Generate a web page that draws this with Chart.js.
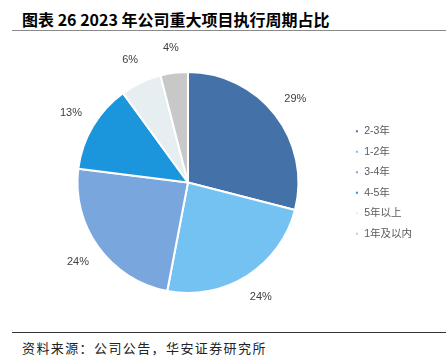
<!DOCTYPE html>
<html><head><meta charset="utf-8">
<script src="https://cdn.jsdelivr.net/npm/chart.js@4/dist/chart.umd.min.js"></script>
<style>
html,body{margin:0;padding:0;background:#fff;width:446px;height:359px;overflow:hidden;}
#title{position:absolute;left:22px;top:7px;font-family:"Noto Sans CJK SC","Liberation Sans",sans-serif;font-weight:bold;font-size:16px;color:#000;white-space:nowrap;}
#topline{position:absolute;left:12px;top:30px;width:434px;height:1px;background:#8a8a8a;}
#botline{position:absolute;left:12px;top:332px;width:434px;height:1px;background:#333;}
#source{position:absolute;left:22px;top:338px;font-family:"Noto Sans CJK SC",sans-serif;font-size:13px;letter-spacing:1.4px;color:#222;white-space:nowrap;}
#wrap{position:absolute;left:0;top:40px;width:446px;height:290px;}
</style></head>
<body>
<div id="title">图表 26 2023 年公司重大项目执行周期占比</div>
<div id="topline"></div>
<div id="wrap"><canvas id="c"></canvas></div>
<div id="botline"></div>
<div id="source">资料来源：公司公告，华安证券研究所</div>
<script>
const categories = ["2-3年","1-2年","3-4年","4-5年","5年以上","1年及以内"];
const shares = [29, 24, 24, 13, 6, 4];
const colors = ["#4472a8","#74c2f2","#7aa6de","#1b96dd","#e6eef1","#c8c8c8"];

const outLabels = {
  id:'outLabels',
  afterDatasetsDraw(chart){
    const ctx = chart.ctx;
    const meta = chart.getDatasetMeta(0);
    ctx.save();
    ctx.font = '11px "Liberation Sans", Arial, sans-serif';
    ctx.fillStyle = '#404040';
    ctx.textAlign = 'center';
    ctx.textBaseline = 'middle';
    meta.data.forEach((arc,i)=>{
      const p = arc.getProps(['x','y','startAngle','endAngle','outerRadius'], true);
      const mid = (p.startAngle + p.endAngle)/2;
      const r = p.outerRadius * 1.23;
      ctx.fillText(shares[i] + '%', p.x + Math.cos(mid)*r, p.y + Math.sin(mid)*r);
    });
    ctx.restore();
  }
};

new Chart(document.getElementById('c'), {
  type:'pie',
  data:{labels:categories, datasets:[{data:shares, backgroundColor:colors, borderColor:'#fff', borderWidth:2, hoverOffset:0}]},
  options:{
    responsive:true, maintainAspectRatio:false, animation:false,
    layout:{padding:{left:31, right:24, top:31, bottom:36}},
    plugins:{
      tooltip:{enabled:false},
      legend:{position:'right', align:'center',
        labels:{boxWidth:4, boxHeight:4, padding:10, color:'#595959',
          font:{size:10.5, family:'"Liberation Sans","Noto Sans CJK SC",sans-serif'}}}
    }
  },
  plugins:[outLabels]
});
</script>
</body></html>
